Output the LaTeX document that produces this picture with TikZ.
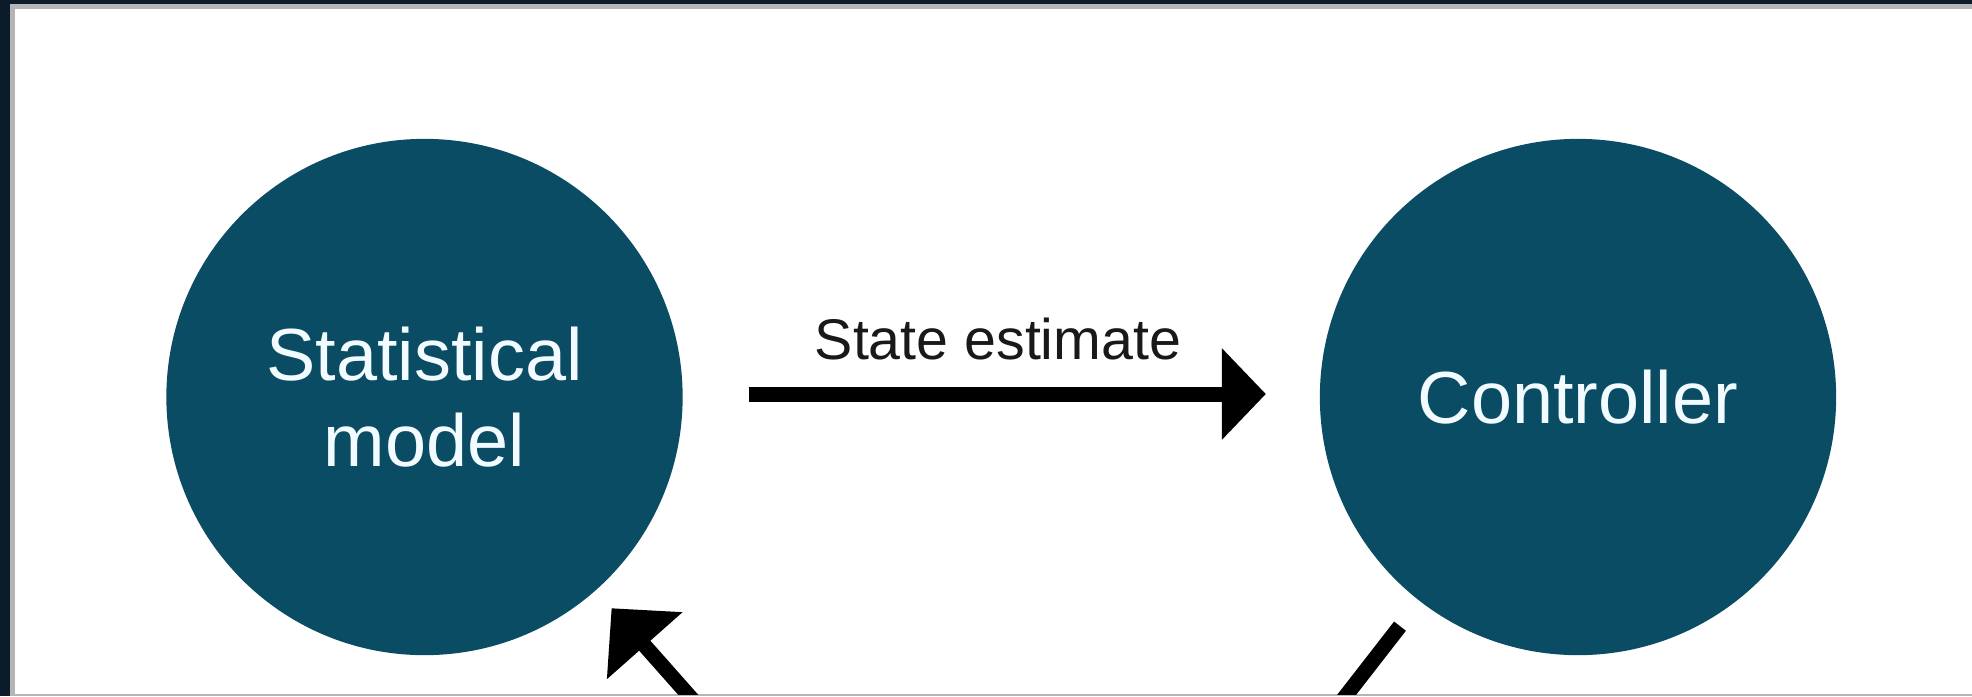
\documentclass[tikz,border=0pt]{standalone}
\usepackage{fontspec}
\setmainfont{Liberation Sans}
\usetikzlibrary{arrows.meta,calc}
\definecolor{navy}{HTML}{0B1B2A}
\definecolor{framegray}{HTML}{B5B5B5}
\definecolor{circfill}{HTML}{0A4C63}
\definecolor{circtext}{HTML}{F2FBFF}
\begin{document}
\begin{tikzpicture}[x=0.01cm,y=-0.01cm,
  bubble/.style={circle, fill=circfill, draw=none, minimum size=5.16cm, inner sep=0pt, outer sep=0pt,
    text=circtext, font=\fontsize{21}{24.5}\selectfont, align=center},
  flow/.style={line width=0.15cm, draw=black},
  headA/.style={-{Triangle[length=0.44cm,width=0.89cm]}},
  headB/.style={-{Triangle[length=0.50cm,width=0.98cm]}},
  lbl/.style={font=\fontsize{16.3}{19}\selectfont, text=black!90, inner sep=0pt}]
\useasboundingbox (0,0) rectangle (1972,696);
\fill[white] (0,0) rectangle (1972,696);
\fill[navy] (0,0) rectangle (10,696);
\fill[navy] (0,0) rectangle (1972,4);
\fill[framegray] (10,4) rectangle (15,696);
\fill[framegray] (10,4) rectangle (1972,9);
\fill[framegray] (10,694) rectangle (1972,696);
\begin{scope}
\clip (15,9) rectangle (1972,694);
\node[bubble] (sm) at (424.5,397) {Statistical\\model};
\node[bubble] (ctrl) at (1578,397) {Controller};
\coordinate (sysL) at (746,760);
\coordinate (sysR) at (1296,760);
\draw[flow,headA] ($(sm.east)+(66,-3)$) -- ($(ctrl.west)+(-54,-3)$);
\node[lbl, anchor=base] (se) at (998,359) {State estimate};
\draw[flow,headB,shorten >=0.24cm] (sysL) -- (sm);
\draw[flow,shorten <=0.32cm] (ctrl) -- (sysR);
\end{scope}
\end{tikzpicture}
\end{document}
